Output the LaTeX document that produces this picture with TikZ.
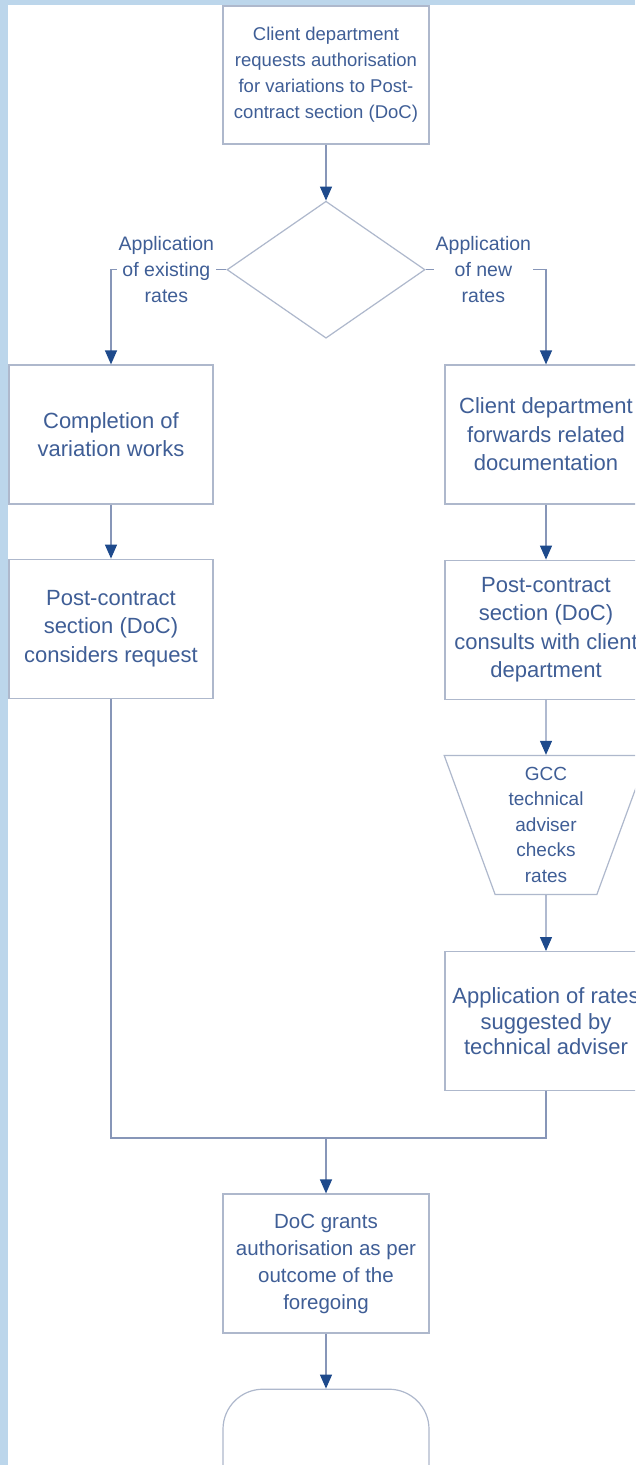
\documentclass[tikz,border=0pt]{standalone}
\usepackage{fontspec}
\setmainfont{Liberation Sans}
\usepackage{xcolor}
\usetikzlibrary{arrows.meta,positioning,calc,shapes.geometric}
\definecolor{stripblue}{HTML}{BCD6EB}
\definecolor{textblue}{HTML}{3F5E96}
\definecolor{boxgrey}{HTML}{AEB8CC}
\definecolor{wireblue}{HTML}{8796B8}
\definecolor{headblue}{HTML}{1E4A8C}

\begin{document}
\begin{tikzpicture}[x=1pt,y=-1pt,>={Triangle[length=14pt,width=12pt,color=headblue]},
				line width=1.2pt]
				\tikzstyle{every node}=[text=textblue,align=center]
				\tikzstyle{procbox}=[draw=boxgrey,fill=white,minimum width=204pt,minimum height=139pt,inner sep=2pt,font=\fontsize{22}{28.5}\selectfont]
				\tikzstyle{decision}=[draw=boxgrey,diamond,minimum width=198pt,minimum height=137pt,inner sep=0pt]
				\tikzstyle{checker}=[draw=boxgrey,trapezium,trapezium left angle=108,trapezium right angle=108,trapezium stretches=true,minimum width=204pt,minimum height=139pt,inner sep=0pt,font=\fontsize{19}{25.5}\selectfont]
				\tikzstyle{terminal}=[draw=boxgrey,rounded corners=40pt,minimum width=206pt,minimum height=130pt]
				\tikzstyle{branchlabel}=[fill=white,inner sep=2pt,font=\fontsize{19.5}{26}\selectfont]
				\tikzstyle{wire}=[draw=wireblue]
				\clip (0,0) rectangle (635,1465);
				\fill[white] (0,0) rectangle (635,1465);
				\fill[stripblue] (0,0) rectangle (8,1465);
				\fill[stripblue] (0,0) rectangle (635,5);
				
				\node[procbox,minimum width=206pt,minimum height=138pt,font=\fontsize{18.5}{26}\selectfont] (request) at (326,75)
				{Client department\\requests authorisation\\for variations to Post-\\contract section (DoC)};
				\node[decision] (rates) [below = 56pt of request] {};
				
				% existing rates
				\node[procbox] (works) at (111,434.5) {Completion of\\variation works};
				\node[procbox] (consider) [below = 54pt of works] {Post-contract\\section (DoC)\\considers request};
				
				% new rates
				\node[procbox,minimum width=202pt] (forward) at (546,434.5) {Client department\\forwards related\\documentation};
				\node[procbox,minimum width=202pt] (consult) [below = 55pt of forward] {Post-contract\\section (DoC)\\consults with client\\department};
				\node[checker] (gcc) [below = 55pt of consult] {GCC\\technical\\adviser\\checks\\rates};
				\node[procbox,minimum width=202pt,font=\fontsize{22}{25.5}\selectfont] (suggest) [below = 56pt of gcc] {Application of rates\\suggested by\\technical adviser};
				
				\coordinate (join) at (326,1138);
				\node[procbox,minimum width=206pt,font=\fontsize{20.5}{27}\selectfont] (grant) at (326,1263.5) {DoC grants\\authorisation as per\\outcome of the\\foregoing};
				\node[terminal] (stop) [below = 55pt of grant] {};
				
				\path[->] (request) edge[wire] (rates)
				(works) edge[wire] (consider)
				(forward) edge[wire] (consult)
				(consult) edge[wire] (gcc)
				(gcc) edge[wire] (suggest)
				(join) edge[wire] (grant)
				(grant) edge[wire] (stop);
				\draw[wire,->] (rates.west) -| node[branchlabel,pos=0.26] {Application\\of existing\\rates} (works.north);
				\draw[wire,->] (rates.east) -| node[branchlabel,pos=0.24] {Application\\of new\\rates} (forward.north);
				\draw[wire] (consider.south) |- (join) -| (suggest.south);
			\end{tikzpicture}
\end{document}
